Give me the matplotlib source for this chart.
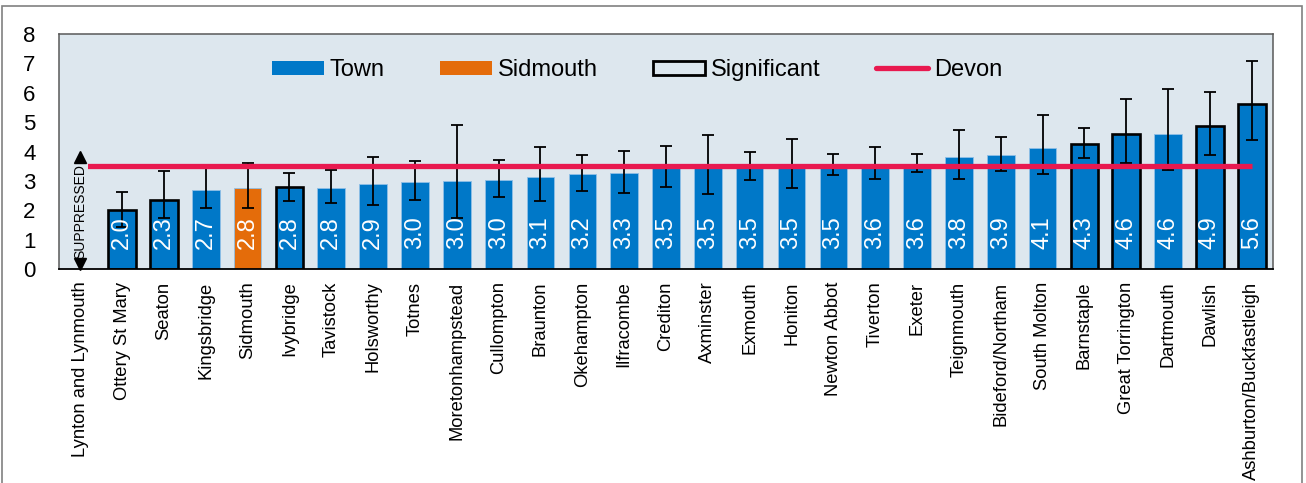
import numpy as np
import matplotlib
matplotlib.use("Agg")
import matplotlib.pyplot as plt
from matplotlib import patches
from matplotlib.lines import Line2D

plt.rcParams['font.family'] = ['Liberation Sans', 'DejaVu Sans']

# data
towns = ["Lynton and Lynmouth", "Ottery St Mary", "Seaton", "Kingsbridge", "Sidmouth",
         "Ivybridge", "Tavistock", "Holsworthy", "Totnes", "Moretonhampstead",
         "Cullompton", "Braunton", "Okehampton", "Ilfracombe", "Crediton", "Axminster",
         "Exmouth", "Honiton", "Newton Abbot", "Tiverton", "Exeter", "Teignmouth",
         "Bideford/Northam", "South Molton", "Barnstaple", "Great Torrington",
         "Dartmouth", "Dawlish", "Ashburton/Buckfastleigh"]
values = [np.nan, 2.0, 2.34, 2.69, 2.76, 2.78, 2.76, 2.91, 2.96, 3.0,
          3.03, 3.13, 3.22, 3.26, 3.5, 3.5, 3.5, 3.5, 3.52, 3.58,
          3.59, 3.82, 3.88, 4.13, 4.27, 4.61, 4.61, 4.86, 5.62]
lower = [np.nan, 1.43, 1.73, 2.07, 2.06, 2.30, 2.23, 2.18, 2.35, 1.72,
         2.46, 2.31, 2.64, 2.60, 2.80, 2.55, 3.02, 2.77, 3.19, 3.07,
         3.31, 3.06, 3.34, 3.23, 3.78, 3.61, 3.37, 3.87, 4.39]
upper = [np.nan, 2.61, 3.34, 3.50, 3.62, 3.28, 3.37, 3.82, 3.66, 4.91,
         3.70, 4.16, 3.89, 4.02, 4.20, 4.56, 3.97, 4.42, 3.93, 4.14,
         3.91, 4.73, 4.49, 5.23, 4.80, 5.78, 6.12, 6.02, 7.07]
significant = ["Ottery St Mary", "Seaton", "Ivybridge", "Barnstaple",
               "Great Torrington", "Dawlish", "Ashburton/Buckfastleigh"]
highlight = "Sidmouth"
suppressed = ["Lynton and Lynmouth"]
devon = 3.51

blue = '#0078C8'
orange = '#E46C0A'
crimson = '#E8194F'
bg = '#DDE7EE'

W, H = 1306, 483
fig = plt.figure(figsize=(W/100, H/100), dpi=100)
ax = fig.add_axes([59.3/W, 1-269/H, (1272.7-59.3)/W, (269-34)/H])
ax.set_facecolor(bg)

x = np.arange(len(towns))
vals = np.array(values)
lo = vals - np.array(lower)
hi = np.array(upper) - vals

for i, t in enumerate(towns):
    if t in suppressed:
        continue
    col = orange if t == highlight else blue
    if t in significant:
        ax.bar(i, vals[i], width=0.66, color=col, edgecolor='black', linewidth=1.9, zorder=2)
    else:
        ax.bar(i, vals[i], width=0.66, color=col, edgecolor='#8fbfe6', linewidth=0.6, zorder=2)
    ax.text(i, 0.68, f"{vals[i]:.1f}", rotation=90, ha='center', va='bottom',
            color='white', fontsize=17, zorder=5)

ax.errorbar(x, vals, yerr=[lo, hi], fmt='none', ecolor='black', elinewidth=1.3,
            capsize=4.5, capthick=1.3, zorder=3)

ax.plot([x[0] - 0.05, x[-1]], [devon, devon], color=crimson, lw=3.8,
        solid_capstyle='butt', zorder=4)

# suppressed marker: double-headed arrow with label
for t in suppressed:
    i = towns.index(t)
    ax.plot([i, i], [0.15, 3.8], color='black', lw=1, zorder=5)
    ax.plot(i, 3.8, marker='^', ms=9, color='black', zorder=7, clip_on=False)
    ax.plot(i, 0.16, marker='v', ms=9, color='black', zorder=7, clip_on=False)
    ax.text(i, 1.96, "SUPPRESSED", rotation=90, ha='center', va='center',
            fontsize=10, color='black', zorder=6,
            bbox=dict(facecolor=bg, edgecolor='none', pad=0.3))

ax.set_xlim(-0.5, len(towns) - 0.5)
ax.set_ylim(0, 8)
ax.set_yticks(range(0, 9))
ax.set_xticks(x)
ax.set_xticklabels(towns, rotation=90, fontsize=13.2)
ax.tick_params(axis='y', length=0, pad=17, labelsize=16)
ax.tick_params(axis='x', length=0, pad=9)

for s in ['top', 'left', 'right']:
    ax.spines[s].set_color('#595959')
    ax.spines[s].set_linewidth(1.1)
ax.spines['bottom'].set_color('black')
ax.spines['bottom'].set_linewidth(1.3)

handles = [patches.Patch(facecolor=blue, edgecolor='none', label='Town'),
           patches.Patch(facecolor=orange, edgecolor='none', label='Sidmouth'),
           patches.Patch(facecolor='none', edgecolor='black', linewidth=2, label='Significant'),
           Line2D([0], [0], color=crimson, lw=3.8, solid_capstyle='round', label='Devon')]
ax.legend(handles=handles, ncol=4, frameon=False, fontsize=17, loc='center',
          bbox_to_anchor=((637-59.3)/1213.4, (269-70)/235.0),
          handlelength=2.2, handleheight=0.55, handletextpad=0.25, columnspacing=2.35)

# outer border of the picture
fig.add_artist(patches.Rectangle((1.5/W, -0.01), (1302-1.5)/W, 1.01 - 5.5/H,
                                 transform=fig.transFigure, fill=False,
                                 edgecolor='#808080', linewidth=1.2))

fig.savefig("out.png", dpi=100)
